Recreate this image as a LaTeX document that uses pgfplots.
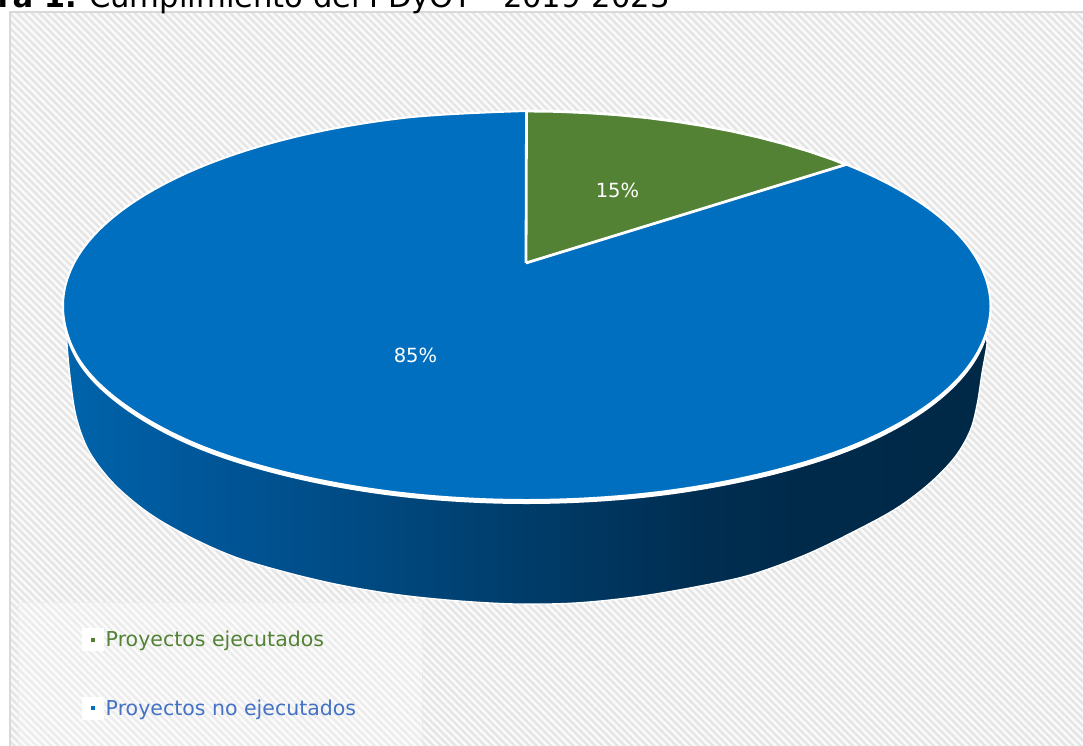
\documentclass[border=0pt]{standalone}
\usepackage{fontspec}
\setmainfont{DejaVu Sans}
\usepackage{pgfplots}
\pgfplotsset{compat=1.18}
\usetikzlibrary{patterns.meta}

\definecolor{piegreen}{HTML}{548235}
\definecolor{pieblue}{HTML}{006FBF}
\definecolor{legblue}{HTML}{4472C4}

% left to right darkening of the rim, bounding box is 25bp..75bp
\pgfdeclarehorizontalshading{rimshade}{100bp}{
  rgb(0bp)=(0,0.39,0.67);
  rgb(25bp)=(0,0.39,0.67);
  rgb(32.2bp)=(0,0.34,0.60);
  rgb(40.3bp)=(0,0.295,0.52);
  rgb(48.5bp)=(0,0.245,0.43);
  rgb(59.3bp)=(0,0.18,0.32);
  rgb(64.7bp)=(0,0.165,0.29);
  rgb(75bp)=(0,0.16,0.28);
  rgb(100bp)=(0,0.16,0.28)}

\begin{document}
\begin{tikzpicture}
\path[use as bounding box, clip] (0,0) rectangle (1083pt,746pt);
\begin{axis}[
    scale only axis,
    width=1083pt, height=746pt,
    xmin=0, xmax=1083,
    ymin=0, ymax=746,
    y dir=reverse,
    hide axis,
    clip=false,
    legend style={
        at={(18/1083,0)}, anchor=south west,
        fill=white, fill opacity=0.3, text opacity=1, draw opacity=1,
        draw=gray!15, densely dashed, line width=0.5pt,
        inner xsep=64pt, inner ysep=26.5pt,
        font=\fontsize{20.5}{23}\selectfont,
        row sep=46pt
    },
    legend cell align=left
]
% chart area
\addplot[forget plot, draw=none, fill=black!2] coordinates {(10,12) (1090,12) (1090,750) (10,750) (10,12)};
\addplot[forget plot, draw=none, pattern={Lines[angle=-45,distance=5.2pt,line width=2.4pt]}, pattern color=black!10]
    coordinates {(10,12) (1090,12) (1090,750) (10,750) (10,12)};
\addplot[forget plot, draw=black!15, line width=2.5pt] coordinates {(1090,12) (10,12) (10,750)};

% rim
\addplot[forget plot, draw=white, line width=1.3pt, shade, shading=rimshade, smooth, tension=0.55] coordinates {
    (69,335) (67,343) (71,385) (77,420) (90,453) (115,485) (150,514) (190,537) (235,557)
    (285,572) (340,585) (400,595) (460,601) (517,604) (575,603) (635,597) (695,587)
    (750,575) (805,555) (855,531) (897,508) (930,483) (955,457) (970,431) (977,405)
    (982,373) (987,343) (984,335)
};

% white edge, same ellipse a little lower so that it thickens towards the front
\addplot[forget plot, draw=white, line width=2pt, fill=white, smooth, tension=0.6] coordinates {
    (526.5,114) (406.5,120.6) (294.75,140) (198.8,170.8) (125.1,211) (78.8,257.8) (63,309)
    (78.8,362) (125.1,408) (198.8,448) (294.75,477.5) (406.5,496.5) (526.5,503)
    (646.5,496.5) (758.25,477.5) (854.2,448) (927.9,408) (974.2,361) (990.5,309)
    (974.2,257.8) (927.9,211) (854.2,170.8) (758.25,140) (646.5,120.6) (526.5,114)
};

% top face
\addplot[forget plot, draw=white, line width=2pt, fill=pieblue, smooth, tension=0.6] coordinates {
    (526.5,111) (406.5,117.6) (294.75,137) (198.8,167.8) (125.1,208) (78.8,254.8) (63,306)
    (78.8,359) (125.1,405) (198.8,445) (294.75,474.5) (406.5,493.5) (526.5,500)
    (646.5,493.5) (758.25,474.5) (854.2,445) (927.9,405) (974.2,358) (990.5,306)
    (974.2,254.8) (927.9,208) (854.2,167.8) (758.25,137) (646.5,117.6) (526.5,111)
};

% 15 % wedge
\addplot[forget plot, draw=white, line width=2.8pt, fill=piegreen] coordinates {
    (526,263) (526.5,111) (556.8,111.4) (587,112.7) (616.9,114.7) (646.5,117.6) (675.5,121.3)
    (703.9,125.8) (731.5,131) (758.25,137) (784,143.7) (808.7,151.1) (832.1,159.1) (846.1,164.5) (526,263)
};

\addlegendimage{legend image code/.code={
    \fill[white, fill opacity=1] (0pt,-11pt) rectangle (21pt,11pt);
    \fill[piegreen, fill opacity=1] (9pt,-1.5pt) rectangle (12pt,1.5pt);}}
\addlegendentry{\textcolor{piegreen}{Proyectos ejecutados}}
\addlegendimage{legend image code/.code={
    \fill[white, fill opacity=1] (0pt,-11pt) rectangle (21pt,11pt);
    \fill[pieblue, fill opacity=1] (9pt,-1.5pt) rectangle (12pt,1.5pt);}}
\addlegendentry{\textcolor{legblue}{Proyectos no ejecutados}}

\node[text=white, font=\fontsize{19.5}{22}\selectfont] at (axis cs:617.5,190) {15\%};
\node[text=white, font=\fontsize{19.5}{22}\selectfont] at (axis cs:415.5,355) {85\%};

\node[anchor=base east, inner sep=0pt, font=\fontsize{30.6}{34}\selectfont\bfseries] at (axis cs:77,8) {Figura 1.};
\node[anchor=base west, inner sep=0pt, font=\fontsize{30.6}{34}\selectfont] at (axis cs:89,8) {Cumplimiento del PDyOT - 2019-2023};
\end{axis}
\end{tikzpicture}
\end{document}
